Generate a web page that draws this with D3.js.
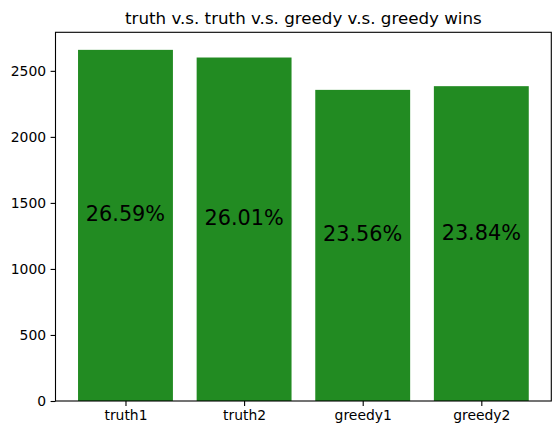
<!DOCTYPE html>
<html lang="en">
<head>
    <meta charset="UTF-8">
    <title>truth v.s. truth v.s. greedy v.s. greedy wins</title>
    <script src="https://cdnjs.cloudflare.com/ajax/libs/d3/7.8.5/d3.min.js"></script>
    <style>
        body { margin: 0; background: white; }
        svg { display: block; font-family: "DejaVu Sans", sans-serif; }
        .axis path, .axis line { stroke: black; stroke-width: 1.1px; }
        .axis text { font-size: 13.9px; fill: black; font-family: "DejaVu Sans", sans-serif; }
    </style>
</head>
<body>
    <svg width="560" height="435"></svg>
    <script>
        // wins per player (out of 10000 games)
        const players = ["truth1", "truth2", "greedy1", "greedy2"];
        const wins = [2659, 2601, 2356, 2384];
        const yTicks = [0, 500, 1000, 1500, 2000, 2500];

        const width = 560, height = 435;
        const margin = {top: 32.3, right: 8.7, bottom: 34, left: 55.5};
        const svg = d3.select("svg");
        const total = d3.sum(wins);

        // matplotlib style: bars at 0..n-1, width 0.8, 5% margins
        const xMin = -0.4, xMax = players.length - 1 + 0.4;
        const pad = (xMax - xMin) * 0.05;
        const x = d3.scaleLinear()
            .domain([xMin - pad, xMax + pad])
            .range([margin.left, width - margin.right]);
        const y = d3.scaleLinear()
            .domain([0, d3.max(wins) * 1.05])
            .range([height - margin.bottom, margin.top]);

        const data = players.map((p, i) => ({name: p, i: i, v: wins[i]}));

        svg.selectAll(".bar")
            .data(data)
            .enter()
            .append("rect")
            .attr("class", "bar")
            .attr("x", d => x(d.i - 0.4))
            .attr("width", d => x(d.i + 0.4) - x(d.i - 0.4))
            .attr("y", d => y(d.v))
            .attr("height", d => y(0) - y(d.v))
            .attr("fill", "#228b22");

        svg.selectAll(".pct")
            .data(data)
            .enter()
            .append("text")
            .attr("class", "pct")
            .attr("x", d => x(d.i))
            .attr("y", d => y(d.v / 2) - 4)
            .attr("text-anchor", "middle")
            .attr("font-size", "20.8px")
            .attr("fill", "black")
            .text(d => (d.v / total * 100).toFixed(2) + "%");

        svg.append("g")
            .attr("class", "axis")
            .attr("transform", `translate(0,${height - margin.bottom})`)
            .call(d3.axisBottom(x)
                .tickValues(d3.range(players.length))
                .tickFormat(i => players[i])
                .tickSize(4.9).tickPadding(4.5).tickSizeOuter(0))
            .select(".domain").remove();

        svg.append("g")
            .attr("class", "axis")
            .attr("transform", `translate(${margin.left},0)`)
            .call(d3.axisLeft(y)
                .tickValues(yTicks)
                .tickFormat(d3.format("d"))
                .tickSize(4.9).tickPadding(4.5).tickSizeOuter(0))
            .select(".domain").remove();

        // frame (spines)
        svg.append("rect")
            .attr("x", margin.left)
            .attr("y", margin.top)
            .attr("width", width - margin.left - margin.right)
            .attr("height", height - margin.top - margin.bottom)
            .attr("fill", "none")
            .attr("stroke", "black")
            .attr("stroke-width", 1.1);

        svg.append("text")
            .attr("x", (margin.left + width - margin.right) / 2)
            .attr("y", margin.top - 8.3)
            .attr("text-anchor", "middle")
            .attr("font-size", "16.7px")
            .attr("fill", "black")
            .text("truth v.s. truth v.s. greedy v.s. greedy wins");
    </script>
</body>
</html>
